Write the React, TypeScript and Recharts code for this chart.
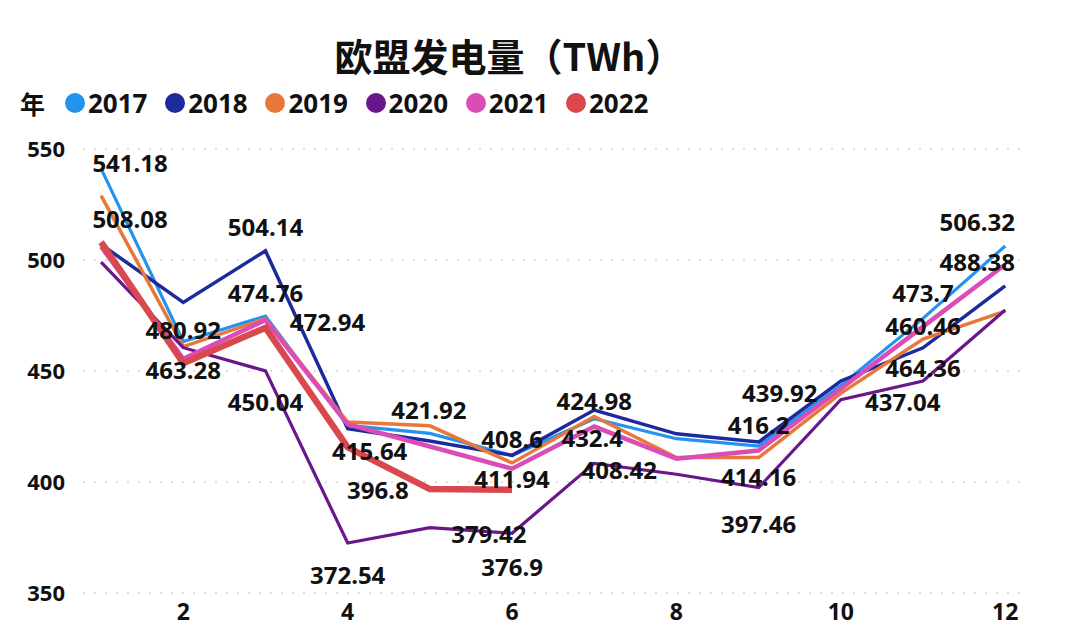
import React from 'react';
import { LineChart, Line, XAxis, YAxis, CartesianGrid, LabelList } from 'recharts';

const months = [1, 2, 3, 4, 5, 6, 7, 8, 9, 10, 11, 12];
const xTicks = [2, 4, 6, 8, 10, 12];
const yTicks = [350, 400, 450, 500, 550];
const years = ['2017', '2018', '2019', '2020', '2021', '2022'];

const s2017 = [541.18, 463.28, 474.76, 425.5, 421.92, 411.94, 428.5, 419.5, 416.2, 443.5, 473.7, 506.32];
const s2018 = [507, 480.92, 504.14, 424, 418.5, 412, 432.4, 421.7, 418, 445.5, 460.46, 488.38];
const s2019 = [529, 461, 473.5, 427, 425.3, 408.6, 429.5, 411, 411, 439.92, 464.36, 477];
const s2020 = [499, 460.5, 450.04, 372.54, 379.42, 376.9, 408.42, 403.5, 397.46, 437.04, 445.5, 477.5];
const s2021 = [506, 455.5, 472.94, 426, 416, 406, 424.98, 410.5, 414.16, 442, 470, 498];
const s2022 = [508.08, 453.5, 469.5, 415.64, 396.8, 396.5];

const seriesValues: Record<string, number[]> = {
  '2017': s2017, '2018': s2018, '2019': s2019, '2020': s2020, '2021': s2021, '2022': s2022,
};

const colors: Record<string, string> = {
  '2017': '#2393ee',
  '2018': '#1c2a9e',
  '2019': '#e8773a',
  '2020': '#6a168c',
  '2021': '#da4db6',
  '2022': '#d9474f',
};
const widths: Record<string, number> = {
  '2017': 3.2, '2018': 3.5, '2019': 3.5, '2020': 3.2, '2021': 4.5, '2022': 6.5,
};

// which points carry a data label, with label offset (index, dx, dy)
const labelSpec: Record<string, [number, number, number][]> = {
  '2017': [[0, 29, -6], [1, 0, 28], [2, 0, -24], [4, -1, -24], [5, 0, 23], [8, 0, -22], [10, 0, -26], [11, -28, -24]],
  '2018': [[1, 0, 27], [2, 0, -24], [6, -2, 27], [10, 0, -22], [11, -28, -24]],
  '2019': [[5, 0, -24], [9, -61, -1], [10, 0, 28]],
  '2020': [[2, 0, 31], [3, 0, 32], [4, 59, 6], [5, 0, 33], [6, 25, 6], [8, 0, 36], [9, 62, 2]],
  '2021': [[2, 62, 1], [6, 0, -26], [8, 0, 26]],
  '2022': [[0, 29, -24], [3, 22, 3], [4, -52, 0]],
};

const data = months.map((m, i) => {
  const row: Record<string, number | undefined> = { month: m };
  years.forEach((y) => {
    row[y] = seriesValues[y][i];
  });
  return row;
});

const FONT = "'Noto Sans', 'Noto Sans CJK SC', sans-serif";

const makeLabel = (year: string) => (props: any) => {
  const { x, y, value, index } = props;
  const spec = labelSpec[year].find((s) => s[0] === index);
  if (!spec || value === undefined || value === null) return <g />;
  return (
    <text
      x={x + spec[1]}
      y={y + spec[2]}
      textAnchor="middle"
      dominantBaseline="central"
      fontSize={24}
      fontWeight={700}
      fontFamily={FONT}
      fill="#111"
    >
      {String(value)}
    </text>
  );
};

export default function App() {
  return (
    <div style={{ position: 'absolute', left: 0, top: 0, width: 1072, height: 644, background: '#fff', fontFamily: FONT }}>
      <div
        style={{
          position: 'absolute', left: 0, top: 35, width: 1018, textAlign: 'center',
          fontSize: 38, fontWeight: 700, lineHeight: '40px', color: '#111',
          fontFamily: "'Noto Sans CJK SC', 'Noto Sans', sans-serif",
        }}
      >
        欧盟发电量（TWh）
      </div>
      <div
        style={{
          position: 'absolute', left: 20, top: 89, fontSize: 25, fontWeight: 700, lineHeight: '28px',
          color: '#111', fontFamily: "'Noto Sans CJK SC', sans-serif",
        }}
      >
        年
      </div>
      {years.map((y, i) => (
        <div key={y} style={{ position: 'absolute', left: 65 + i * 100.2, top: 89, height: 28, display: 'flex', alignItems: 'center' }}>
          <div style={{ width: 20, height: 20, borderRadius: 10, background: colors[y] }} />
          <div style={{ marginLeft: 3, fontSize: 26, fontWeight: 700, color: '#111', lineHeight: '28px' }}>{y}</div>
        </div>
      ))}
      <div style={{ position: 'absolute', left: 0, top: 0 }}>
        <LineChart width={1072} height={644} data={data} margin={{ top: 149, right: 52, bottom: 11, left: 0 }}>
          <CartesianGrid vertical={false} stroke="#d4d4d4" strokeDasharray="2 9" strokeWidth={1.5} />
          <XAxis
            dataKey="month"
            type="number"
            domain={[0.78, 12.18]}
            ticks={xTicks}
            allowDataOverflow
            axisLine={false}
            tickLine={false}
            tickSize={0}
            tickMargin={11}
            height={40}
            tick={{ fontSize: 23, fontWeight: 700, fill: '#111', fontFamily: FONT }}
          />
          <YAxis
            type="number"
            domain={[350, 550]}
            ticks={yTicks}
            allowDataOverflow
            axisLine={false}
            tickLine={false}
            tickSize={0}
            tickMargin={18}
            width={83}
            tick={{ fontSize: 22, fontWeight: 700, fill: '#111', fontFamily: FONT }}
          />
          {years.map((y) => (
            <Line
              key={'l' + y}
              type="linear"
              dataKey={y}
              stroke={colors[y]}
              strokeWidth={widths[y]}
              dot={false}
              activeDot={false}
              isAnimationActive={false}
            />
          ))}
          {years.map((y) => (
            <Line
              key={'t' + y}
              type="linear"
              dataKey={y}
              stroke="none"
              strokeWidth={0}
              dot={false}
              activeDot={false}
              legendType="none"
              isAnimationActive={false}
            >
              <LabelList dataKey={y} content={makeLabel(y)} />
            </Line>
          ))}
        </LineChart>
      </div>
    </div>
  );
}
